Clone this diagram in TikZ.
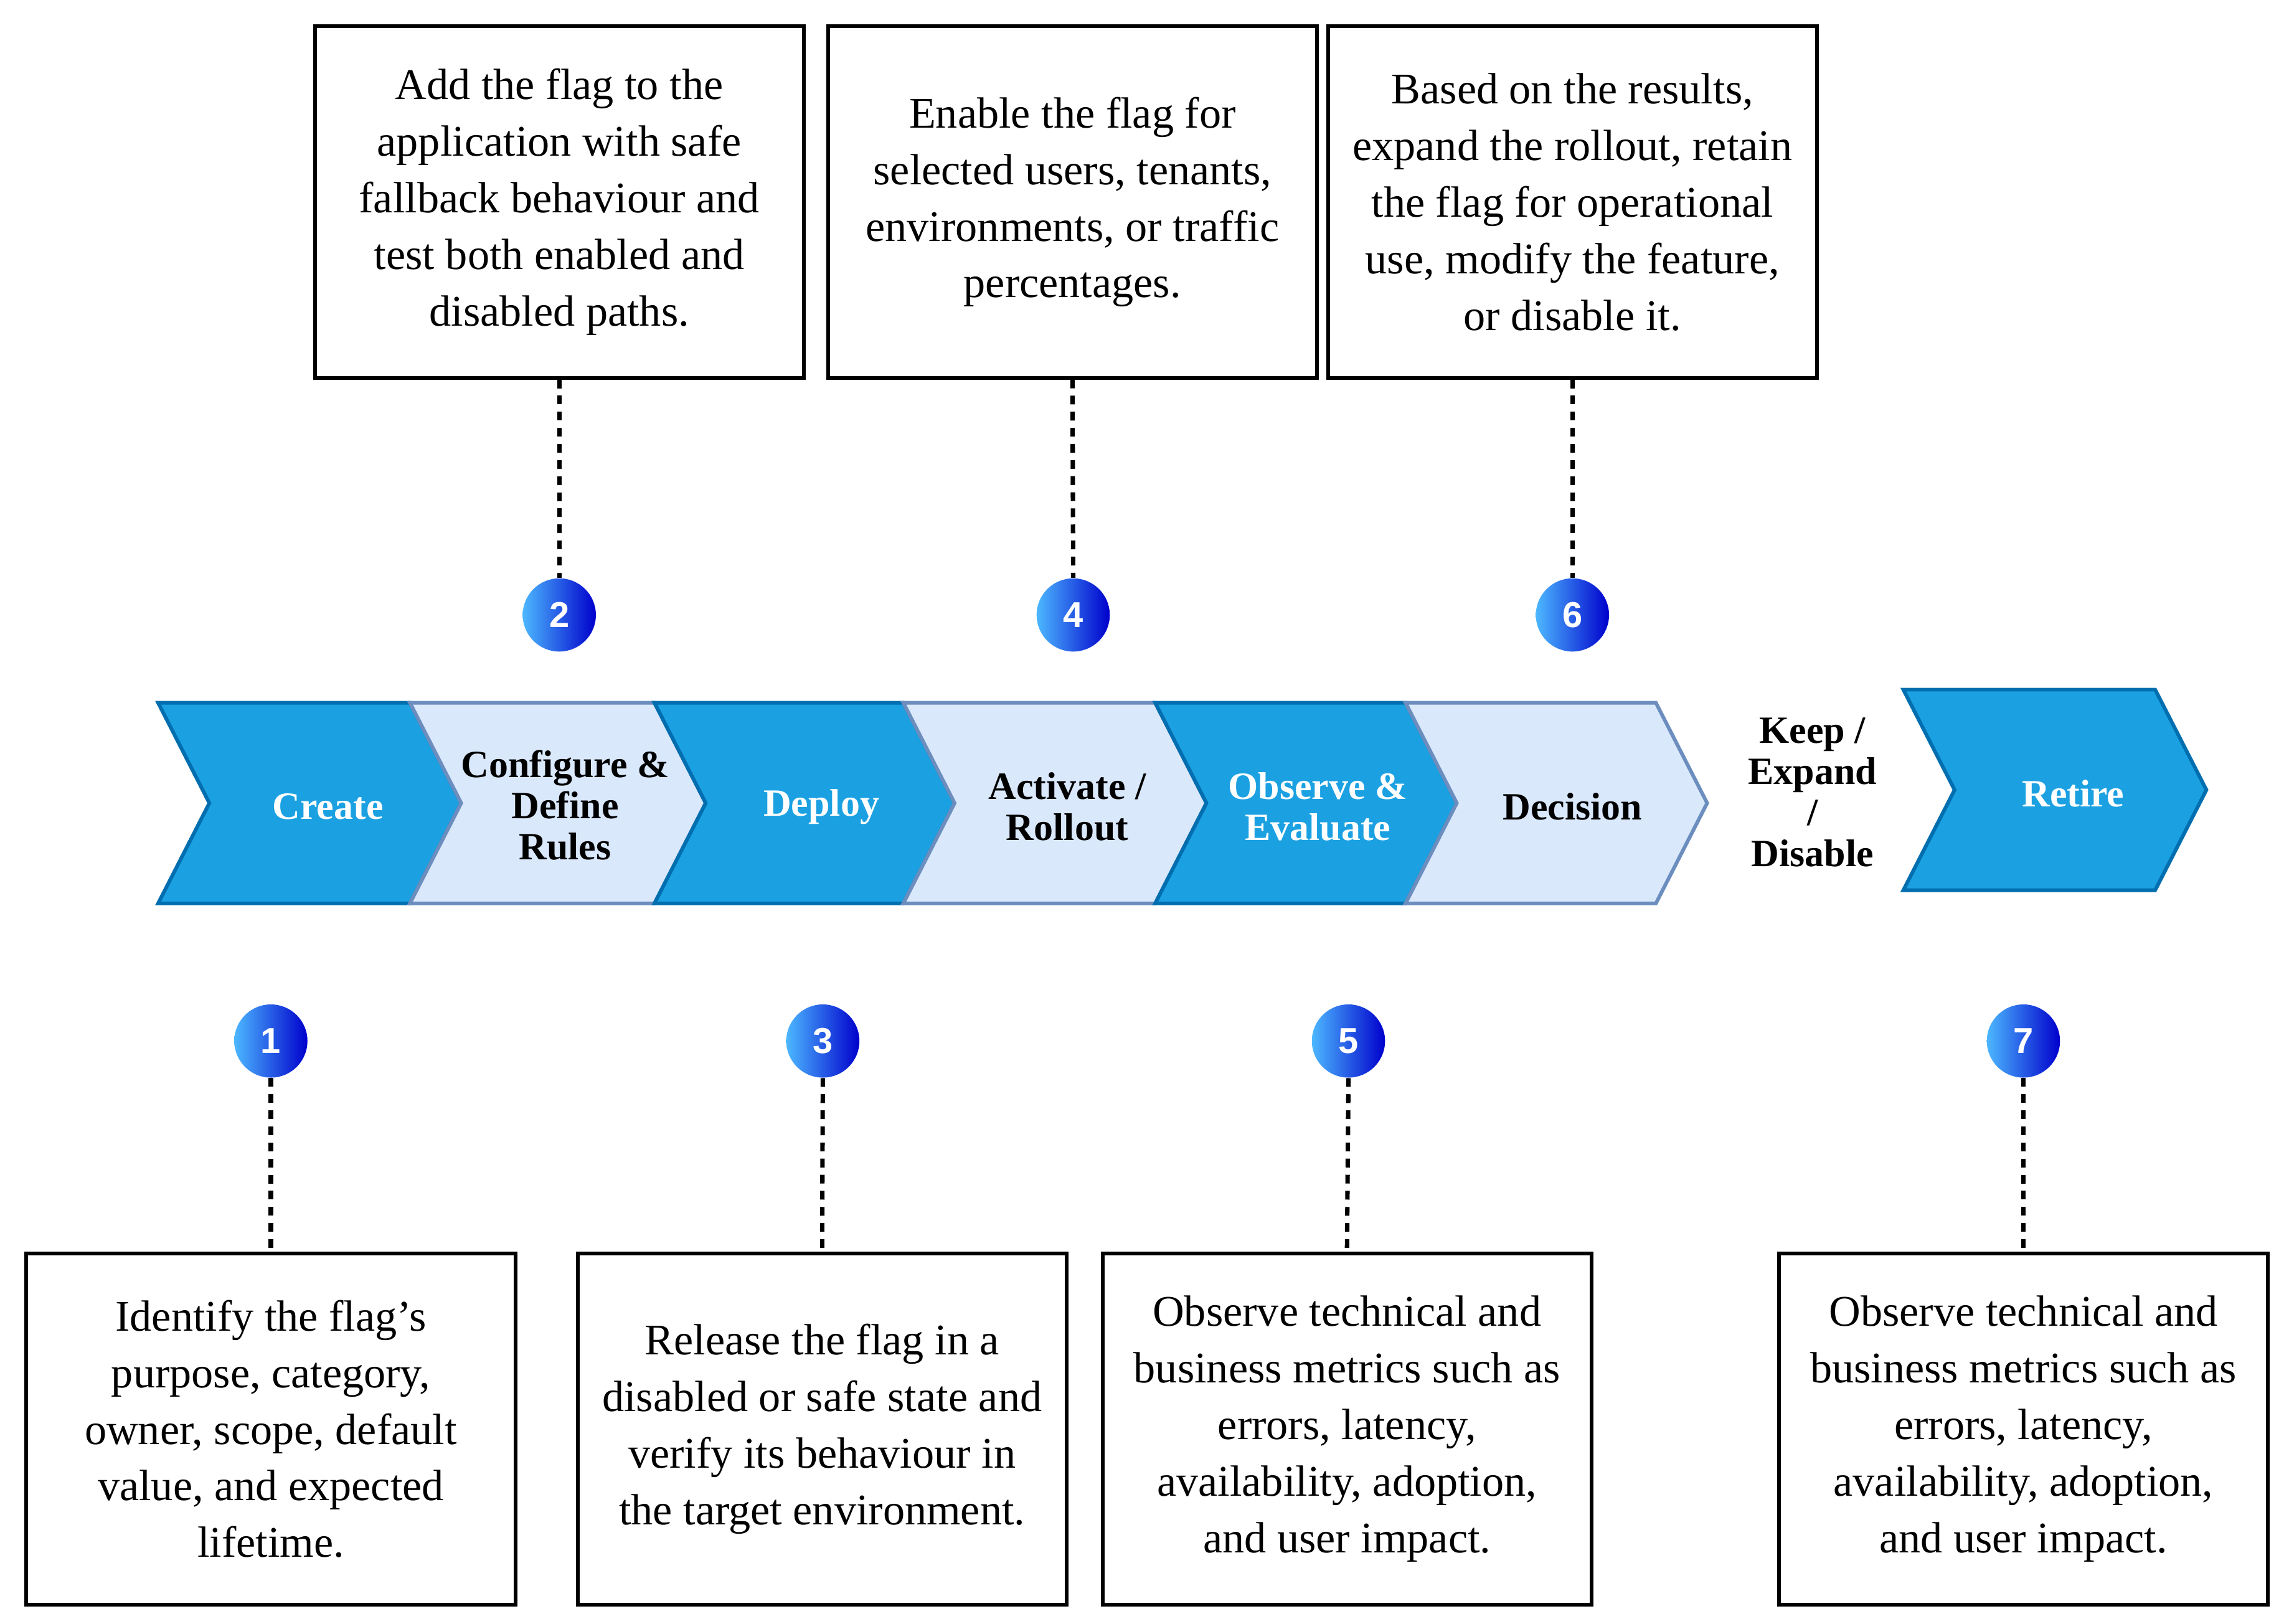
\documentclass[tikz,border=0pt]{standalone}
\usepackage{fontspec}
\setmainfont{Liberation Serif}
\newfontfamily\numfont{Liberation Sans}
\begin{document}
\begin{tikzpicture}[x=0.02cm,y=-0.02cm,
  txtbox/.style={draw=black,line width=0.05cm,minimum width=6.68cm,minimum height=4.8cm,align=center,inner sep=0pt,font=\fontsize{17}{22}\selectfont},
  circ/.style={circle,minimum size=1cm,inner sep=0pt,left color=blue!40!cyan!70!white,right color=blue!80!black,text=white,font=\numfont\bfseries\fontsize{14}{14}\selectfont},
  conn/.style={line width=0.06cm,dash pattern=on 0.12cm off 0.1cm},
  dk/.style={fill=darkfill,draw=darkline,line width=0.05cm},
  lt/.style={fill=lightfill,draw=lightline,line width=0.05cm},
  lbl/.style={align=center,font=\bfseries\fontsize{15}{16}\selectfont}]
\definecolor{darkfill}{HTML}{1BA1E2}
\definecolor{darkline}{HTML}{006EAF}
\definecolor{lightfill}{HTML}{DAE8FC}
\definecolor{lightline}{HTML}{6C8EBF}
\useasboundingbox (0,0) rectangle (1560,1109);
\newcommand\chev[4]{\draw[#4] (#1,#2) -- ({#1+#3},#2) -- ({#1+#3+35},{#2+68.5}) -- ({#1+#3},{#2+137}) -- (#1,{#2+137}) -- ({#1+35},{#2+68.5}) -- cycle;}
\chev{108}{480}{172}{dk}
\chev{280}{480}{167}{lt}
\chev{447}{480}{170}{dk}
\chev{617}{480}{172}{lt}
\chev{789}{480}{171}{dk}
\chev{960}{480}{171}{lt}
\chev{1300}{471}{172}{dk}
\node[lbl,text=white] (s1) at (224,551) {Create};
\node[lbl] (s2) at (386,550) {Configure \&\\Define\\Rules};
\node[lbl,text=white] (s3) at (561,551) {Deploy};
\node[lbl] (s4) at (729,551) {Activate /\\Rollout};
\node[lbl,text=white] (s5) at (900,551) {Observe \&\\Evaluate};
\node[lbl] (s6) at (1074,551) {Decision};
\node[lbl] (kd) at (1238,541) {Keep /\\Expand\\/\\Disable};
\node[lbl,text=white] (s7) at (1416,542) {Retire};
% top
\node[txtbox] (b2) at (382,138) {Add the flag to the\\application with safe\\fallback behaviour and\\test both enabled and\\disabled paths.};
\node[txtbox] (b4) at (732.5,138) {Enable the flag for\\selected users, tenants,\\environments, or traffic\\percentages.};
\node[txtbox] (b6) at (1074,138) {Based on the results,\\expand the rollout, retain\\the flag for operational\\use, modify the feature,\\or disable it.};
\node[circ] (c2) at (382,420) {2};
\node[circ] (c4) at (733,420) {4};
\node[circ] (c6) at (1074,420) {6};
\draw[conn] (b2.south) -- (c2.north);
\draw[conn] (b4.south) -- (c4.north);
\draw[conn] (b6.south) -- (c6.north);
% bottom
\node[txtbox] (b1) at (185,976) {Identify the flag’s\\purpose, category,\\owner, scope, default\\value, and expected\\lifetime.};
\node[txtbox] (b3) at (561.5,976) {Release the flag in a\\disabled or safe state and\\verify its behaviour in\\the target environment.};
\node[txtbox] (b5) at (920,976) {Observe technical and\\business metrics such as\\errors, latency,\\availability, adoption,\\and user impact.};
\node[txtbox] (b7) at (1382,976) {Observe technical and\\business metrics such as\\errors, latency,\\availability, adoption,\\and user impact.};
\node[circ] (c1) at (185,711) {1};
\node[circ] (c3) at (562,711) {3};
\node[circ] (c5) at (921,711) {5};
\node[circ] (c7) at (1382,711) {7};
\draw[conn] (c1.south) -- (b1.north);
\draw[conn] (c3.south) -- (b3.north);
\draw[conn] (c5.south) -- (b5.north);
\draw[conn] (c7.south) -- (b7.north);
\end{tikzpicture}
\end{document}
